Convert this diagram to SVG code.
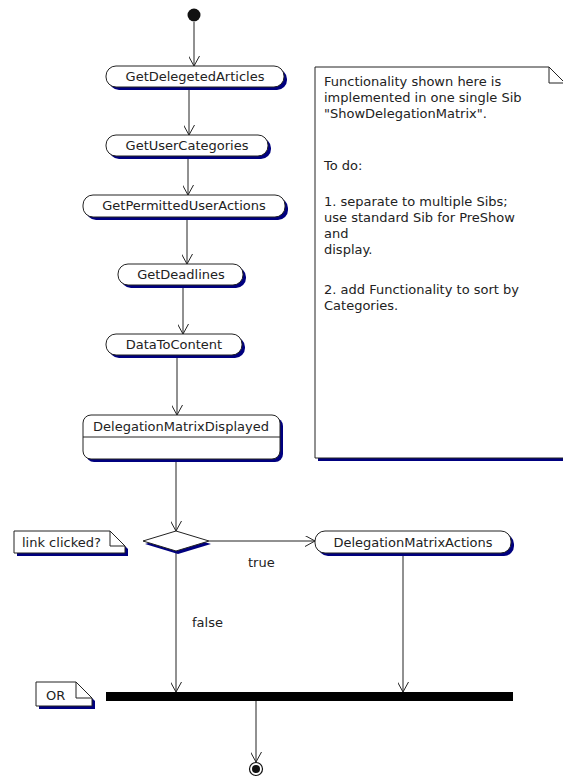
<svg xmlns="http://www.w3.org/2000/svg" width="563" height="777" viewBox="0 0 563 777">
  <defs>
    <marker id="open-arrow" viewBox="0 0 10 11" refX="10" refY="5.5" markerWidth="10" markerHeight="11" markerUnits="userSpaceOnUse" orient="auto">
      <path d="M0,0 L10,5.5 L0,11" fill="none" stroke="#222" stroke-width="1"/>
    </marker>
  </defs>
  <style>
    .shadow { fill: #00007f; stroke: none; }
    .box { fill: #fff; stroke: #222; stroke-width: 1; }
    .label { font-family: "DejaVu Sans", "Liberation Sans", sans-serif; font-size: 13px; fill: #222; }
    .mid { text-anchor: middle; }
    .edge { fill: none; stroke: #222; stroke-width: 1; marker-end: url(#open-arrow); }
    .fold { fill: none; stroke: #222; stroke-width: 1; }
  </style>

  <rect width="563" height="777" fill="#fff"/>

  <!-- connectors -->
  <g id="connectors">
    <line class="edge" x1="194" y1="22" x2="194" y2="66"/>
    <line class="edge" x1="189" y1="87" x2="189" y2="135"/>
    <line class="edge" x1="188" y1="156" x2="188" y2="195"/>
    <line class="edge" x1="187" y1="217" x2="187" y2="264"/>
    <line class="edge" x1="183" y1="285" x2="183" y2="334"/>
    <line class="edge" x1="177" y1="355" x2="177" y2="415"/>
    <line class="edge" x1="176" y1="459" x2="176" y2="531"/>
    <line class="edge" x1="209" y1="541" x2="315" y2="541"/>
    <line class="edge" x1="176" y1="551" x2="176" y2="692"/>
    <line class="edge" x1="403" y1="553" x2="403" y2="692"/>
    <line class="edge" x1="256" y1="701" x2="256" y2="762"/>
    <text class="label" x="248" y="567">true</text>
    <text class="label" x="192" y="627">false</text>
  </g>

  <!-- initial state -->
  <g id="start">
    <circle cx="194" cy="15" r="6.5" fill="#111"/>
  </g>

  <g id="GetDelegetedArticles">
    <rect class="shadow" x="109" y="69" width="178" height="21" rx="10"/>
    <rect class="box" x="106" y="66" width="178" height="21" rx="10"/>
    <text class="label mid" x="195" y="81">GetDelegetedArticles</text>
  </g>

  <g id="GetUserCategories">
    <rect class="shadow" x="109" y="138" width="162" height="21" rx="10"/>
    <rect class="box" x="106" y="135" width="162" height="21" rx="10"/>
    <text class="label mid" x="187" y="150">GetUserCategories</text>
  </g>

  <g id="GetPermittedUserActions">
    <rect class="shadow" x="86" y="198" width="202" height="22" rx="10"/>
    <rect class="box" x="83" y="195" width="202" height="22" rx="10"/>
    <text class="label mid" x="184" y="210">GetPermittedUserActions</text>
  </g>

  <g id="GetDeadlines">
    <rect class="shadow" x="121" y="267" width="125" height="21" rx="10"/>
    <rect class="box" x="118" y="264" width="125" height="21" rx="10"/>
    <text class="label mid" x="181" y="279">GetDeadlines</text>
  </g>

  <g id="DataToContent">
    <rect class="shadow" x="109" y="337" width="136" height="21" rx="10"/>
    <rect class="box" x="106" y="334" width="136" height="21" rx="10"/>
    <text class="label mid" x="174" y="349">DataToContent</text>
  </g>

  <g id="DelegationMatrixDisplayed">
    <rect class="shadow" x="86" y="418" width="197" height="44" rx="8"/>
    <rect class="box" x="83" y="415" width="197" height="44" rx="8"/>
    <line x1="83" y1="437" x2="280" y2="437" stroke="#222" stroke-width="1"/>
    <text class="label mid" x="181" y="431">DelegationMatrixDisplayed</text>
  </g>

  <g id="decision">
    <polygon class="shadow" points="178,534 211,544 178,554 145,544"/>
    <polygon class="box" points="176,531 209,541 176,551 143,541"/>
  </g>

  <g id="DelegationMatrixActions">
    <rect class="shadow" x="318" y="534" width="196" height="22" rx="10"/>
    <rect class="box" x="315" y="531" width="196" height="22" rx="10"/>
    <text class="label mid" x="413" y="547">DelegationMatrixActions</text>
  </g>

  <g id="join-bar">
    <rect x="106" y="692" width="407" height="9" fill="#000"/>
  </g>

  <!-- final state -->
  <g id="end">
    <circle cx="256" cy="769" r="6.5" fill="#fff" stroke="#111" stroke-width="1.2"/>
    <circle cx="256" cy="769" r="4" fill="#111"/>
  </g>

  <g id="note-description">
    <path class="shadow" d="M318,70 L552,70 L568,86 L568,461 L318,461 Z"/>
    <path class="box" d="M315,67 L549,67 L565,83 L565,458 L315,458 Z"/>
    <path class="fold" d="M549,67 L549,83 L565,83"/>
    <text class="label" x="324" y="86">Functionality shown here is</text>
    <text class="label" x="324" y="102">implemented in one single Sib</text>
    <text class="label" x="324" y="118">"ShowDelegationMatrix".</text>
    <text class="label" x="324" y="170">To do:</text>
    <text class="label" x="324" y="206">1. separate to multiple Sibs;</text>
    <text class="label" x="324" y="222">use standard Sib for PreShow</text>
    <text class="label" x="324" y="238">and</text>
    <text class="label" x="324" y="254">display.</text>
    <text class="label" x="324" y="294">2. add Functionality to sort by</text>
    <text class="label" x="324" y="310">Categories.</text>
  </g>

  <g id="note-link-clicked">
    <path class="shadow" d="M17,534 L113,534 L128,549 L128,556 L17,556 Z"/>
    <path class="box" d="M14,531 L110,531 L125,546 L125,553 L14,553 Z"/>
    <path class="fold" d="M110,531 L110,546 L125,546"/>
    <text class="label" x="22" y="547">link clicked?</text>
  </g>

  <g id="note-or">
    <path class="shadow" d="M39,685 L79,685 L95,701 L95,709 L39,709 Z"/>
    <path class="box" d="M36,682 L76,682 L92,698 L92,706 L36,706 Z"/>
    <path class="fold" d="M76,682 L76,698 L92,698"/>
    <text class="label" x="46" y="700">OR</text>
  </g>
</svg>
